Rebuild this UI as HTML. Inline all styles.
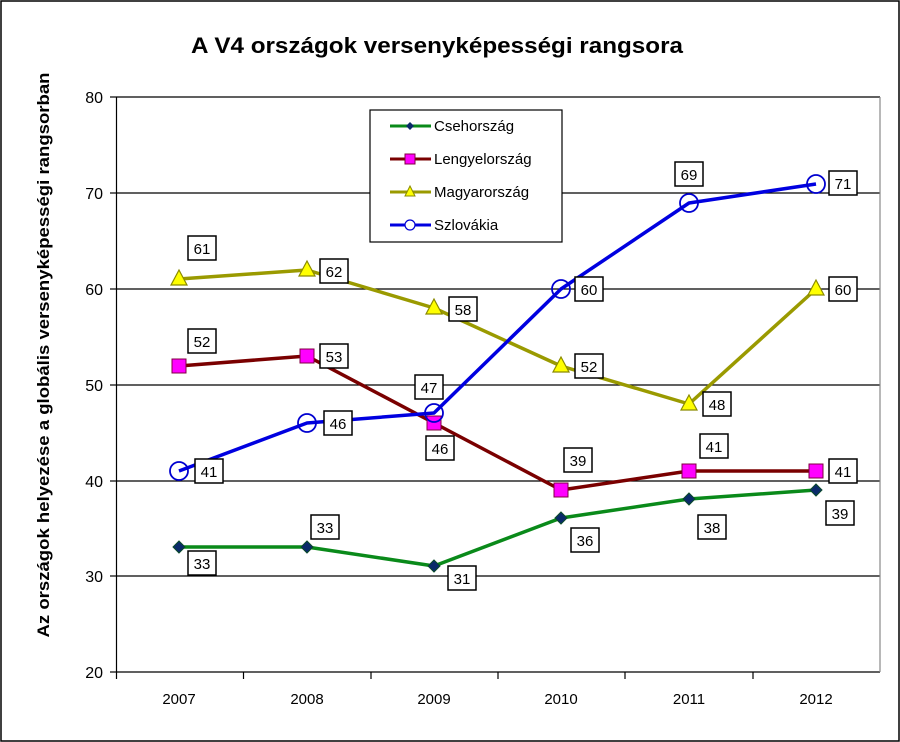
<!DOCTYPE html>
<html><head><meta charset="utf-8"><style>
body{margin:0;background:#fff}
svg{display:block;font-family:"Liberation Sans","DejaVu Sans",sans-serif}
</style></head><body>
<svg width="900" height="742" viewBox="0 0 900 742">
<rect x="1" y="1" width="898" height="740" fill="#fff" stroke="#000" stroke-width="1.5"/>
<text x="437" y="53" text-anchor="middle" font-size="22" font-weight="bold" textLength="492" lengthAdjust="spacingAndGlyphs">A V4 országok versenyképességi rangsora</text>
<text transform="translate(49,355) rotate(-90)" text-anchor="middle" font-size="17" font-weight="bold" textLength="565" lengthAdjust="spacingAndGlyphs">Az országok helyezése a globális versenyképességi rangsorban</text>
<g stroke="#000" stroke-width="1.2">
<line x1="116" y1="97" x2="880" y2="97"/>
<line x1="116" y1="193" x2="880" y2="193"/>
<line x1="116" y1="289" x2="880" y2="289"/>
<line x1="116" y1="385" x2="880" y2="385"/>
<line x1="116" y1="481" x2="880" y2="481"/>
<line x1="116" y1="576" x2="880" y2="576"/>
<line x1="116" y1="672" x2="880" y2="672"/>
<line x1="116.5" y1="97" x2="116.5" y2="679"/>
<line x1="880" y1="97" x2="880" y2="672" stroke="#888"/>
<line x1="110" y1="97" x2="116" y2="97"/><line x1="110" y1="193" x2="116" y2="193"/><line x1="110" y1="289" x2="116" y2="289"/><line x1="110" y1="385" x2="116" y2="385"/><line x1="110" y1="481" x2="116" y2="481"/><line x1="110" y1="576" x2="116" y2="576"/><line x1="110" y1="672" x2="116" y2="672"/>
<line x1="243.5" y1="672" x2="243.5" y2="679"/><line x1="371" y1="672" x2="371" y2="679"/><line x1="498" y1="672" x2="498" y2="679"/><line x1="625" y1="672" x2="625" y2="679"/><line x1="753" y1="672" x2="753" y2="679"/>
</g>
<g font-size="16" text-anchor="end">
<text x="103" y="103">80</text><text x="103" y="199">70</text><text x="103" y="295">60</text><text x="103" y="391">50</text><text x="103" y="487">40</text><text x="103" y="582">30</text><text x="103" y="678">20</text>
</g>
<g font-size="15" text-anchor="middle">
<text x="179" y="704">2007</text><text x="307" y="704">2008</text><text x="434" y="704">2009</text><text x="561" y="704">2010</text><text x="689" y="704">2011</text><text x="816" y="704">2012</text>
</g>
<!-- lines -->
<g fill="none" stroke-width="3.5" stroke-linejoin="round">
<polyline stroke="#9a9a00" points="179,279 307,270 434,308 561,366 689,404 816,289"/>
<polyline stroke="#7a0000" points="179,366 307,356 434,423 561,490 689,471 816,471"/>
<polyline stroke="#0a8a1a" points="179,547 307,547 434,566 561,518 689,499 816,490"/>
<polyline stroke="#0000e0" points="179,471 307,423 434,413 561,289 689,203 816,184"/>
</g>
<!-- markers -->
<g fill="#ffff00" stroke="#8a8a00" stroke-width="1.2">
<polygon points="179,270 187,285 171,285"/><polygon points="307,261 315,276 299,276"/><polygon points="434,299 442,314 426,314"/><polygon points="561,357 569,372 553,372"/><polygon points="689,395 697,410 681,410"/><polygon points="816,280 824,295 808,295"/>
</g>
<g fill="#ff00ff" stroke="#800040" stroke-width="1">
<rect x="172" y="359" width="14" height="14"/><rect x="300" y="349" width="14" height="14"/><rect x="427" y="416" width="14" height="14"/><rect x="554" y="483" width="14" height="14"/><rect x="682" y="464" width="14" height="14"/><rect x="809" y="464" width="14" height="14"/>
</g>
<g fill="#0a2a6a" stroke="#0a4a2a" stroke-width="1">
<polygon points="179,541 185,547 179,553 173,547"/><polygon points="307,541 313,547 307,553 301,547"/><polygon points="434,560 440,566 434,572 428,566"/><polygon points="561,512 567,518 561,524 555,518"/><polygon points="689,493 695,499 689,505 683,499"/><polygon points="816,484 822,490 816,496 810,490"/>
</g>
<g fill="none" stroke="#0000d0" stroke-width="1.8">
<circle cx="179" cy="471" r="9"/><circle cx="307" cy="423" r="9"/><circle cx="434" cy="413" r="9"/><circle cx="561" cy="289" r="9"/><circle cx="689" cy="203" r="9"/><circle cx="816" cy="184" r="9"/>
</g>
<!-- data labels -->
<g font-size="15" text-anchor="middle">
<g fill="#fff" stroke="#000" stroke-width="1.5">
<rect x="188" y="236" width="28" height="24"/><rect x="320" y="259" width="28" height="24"/><rect x="449" y="297" width="28" height="24"/><rect x="575" y="354" width="28" height="24"/><rect x="703" y="392" width="28" height="24"/><rect x="829" y="277" width="28" height="24"/>
<rect x="188" y="329" width="28" height="24"/><rect x="320" y="344" width="28" height="24"/><rect x="426" y="436" width="28" height="24"/><rect x="564" y="448" width="28" height="24"/><rect x="700" y="434" width="28" height="24"/><rect x="829" y="459" width="28" height="24"/>
<rect x="188" y="551" width="28" height="24"/><rect x="311" y="515" width="28" height="24"/><rect x="448" y="566" width="28" height="24"/><rect x="571" y="528" width="28" height="24"/><rect x="698" y="515" width="28" height="24"/><rect x="826" y="501" width="28" height="24"/>
<rect x="195" y="459" width="28" height="24"/><rect x="324" y="411" width="28" height="24"/><rect x="415" y="375" width="28" height="24"/><rect x="575" y="277" width="28" height="24"/><rect x="675" y="162" width="28" height="24"/><rect x="829" y="171" width="28" height="24"/>
</g>
<text x="202" y="254">61</text><text x="334" y="277">62</text><text x="463" y="315">58</text><text x="589" y="372">52</text><text x="717" y="410">48</text><text x="843" y="295">60</text>
<text x="202" y="347">52</text><text x="334" y="362">53</text><text x="440" y="454">46</text><text x="578" y="466">39</text><text x="714" y="452">41</text><text x="843" y="477">41</text>
<text x="202" y="569">33</text><text x="325" y="533">33</text><text x="462" y="584">31</text><text x="585" y="546">36</text><text x="712" y="533">38</text><text x="840" y="519">39</text>
<text x="209" y="477">41</text><text x="338" y="429">46</text><text x="429" y="393">47</text><text x="589" y="295">60</text><text x="689" y="180">69</text><text x="843" y="189">71</text>
</g>
<!-- legend -->
<rect x="370" y="110" width="192" height="132" fill="#fff" stroke="#000" stroke-width="1.2"/>
<g stroke-width="3">
<line x1="390" y1="126" x2="431" y2="126" stroke="#0a8a1a"/>
<line x1="390" y1="159" x2="431" y2="159" stroke="#7a0000"/>
<line x1="390" y1="192" x2="431" y2="192" stroke="#9a9a00"/>
<line x1="390" y1="225" x2="431" y2="225" stroke="#0000e0"/>
</g>
<polygon points="410,122 414,126 410,130 406,126" fill="#0a2a6a"/>
<rect x="405" y="154" width="10" height="10" fill="#ff00ff" stroke="#800040"/>
<polygon points="410,186 415,196 405,196" fill="#ffff00" stroke="#8a8a00"/>
<circle cx="410" cy="225" r="5" fill="#fff" stroke="#0000d0" stroke-width="1.2"/>
<g font-size="15">
<text x="434" y="131">Csehország</text><text x="434" y="164">Lengyelország</text><text x="434" y="197">Magyarország</text><text x="434" y="230">Szlovákia</text>
</g>
</svg>
</body></html>
